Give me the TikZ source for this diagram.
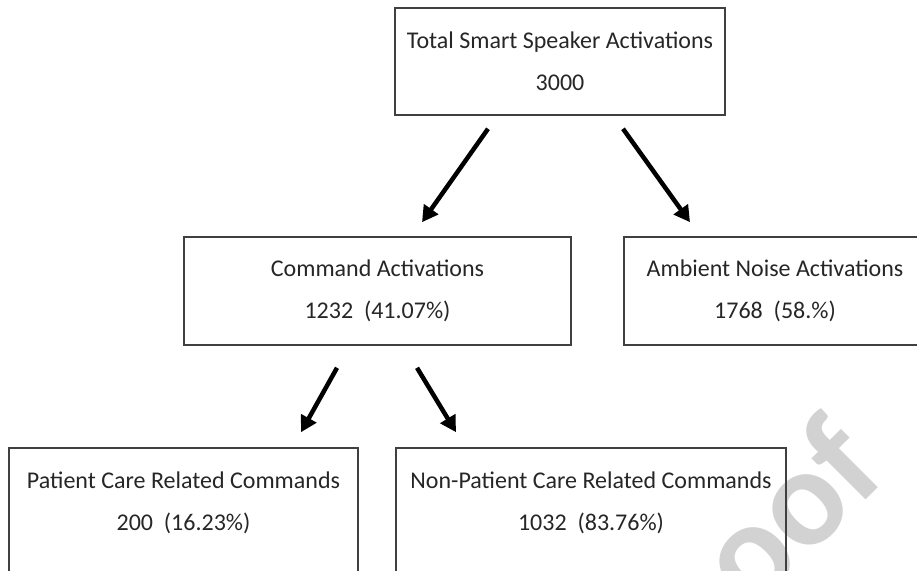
\documentclass[tikz,border=0pt]{standalone}
\usepackage{fontspec}
\setmainfont{Carlito}
\usetikzlibrary{arrows.meta,calc}
\definecolor{boxline}{HTML}{404040}
\definecolor{txt}{HTML}{262626}
\definecolor{wm}{HTML}{D2D2D2}
\tikzset{
  box/.style={draw=boxline, line width=1.6pt, inner sep=0pt, fill=none},
  lbl/.style={text=txt, align=center, inner sep=0pt, font=\fontsize{24}{42}\selectfont},
  arr/.style={line width=4.5pt, -{Triangle[length=16pt,width=17pt]}},
}
\begin{document}
\begin{tikzpicture}[x=1pt,y=-1pt]
\useasboundingbox (0,0) rectangle (917,570);
\clip (0,0) rectangle (917,570);
% watermark fragment
\node[text=wm, inner sep=0pt, anchor=base, rotate=45, font=\fontsize{140}{140}\selectfont\bfseries] (wmk) at (821,545) {oof};
% boxes
\node[box, lbl, minimum width=330pt, minimum height=107pt] (top) at (560,61.5) {Total Smart Speaker Activations\\3000};
\node[box, lbl, minimum width=387pt, minimum height=108pt] (cmd) at (377.5,291) {Command Activations\\1232\ \ (41.07\%)};
\node[box, lbl, minimum width=302pt, minimum height=108pt] (amb) at (775,291) {Ambient Noise Activations\\1768\ \ (58.\%)};
\node[box, minimum width=349pt, minimum height=140pt] (pc) at (183.5,518) {};
\node[box, minimum width=390pt, minimum height=140pt] (npc) at (591,518) {};
\node[lbl] (pct) at (183.5,503) {Patient Care Related Commands\\200\ \ (16.23\%)};
\node[lbl] (npct) at (591,503) {Non-Patient Care Related Commands\\1032\ \ (83.76\%)};
% arrow end points
\coordinate (a1s) at ($(top.south)+(-72,13)$);
\coordinate (a1e) at ($(cmd.north)+(44.5,-14)$);
\coordinate (a2s) at ($(top.south)+(63,13)$);
\coordinate (a2e) at ($(amb.north)+(-85,-14)$);
\coordinate (a3s) at ($(cmd.south)+(-40.5,22)$);
\coordinate (a3e) at ($(pc.north)+(117.5,-15)$);
\coordinate (a4s) at ($(cmd.south)+(39.5,22)$);
\coordinate (a4e) at ($(npc.north)+(-135,-15)$);
\draw[arr] (a1s) -- (a1e);
\draw[arr] (a2s) -- (a2e);
\draw[arr] (a3s) -- (a3e);
\draw[arr] (a4s) -- (a4e);
\end{tikzpicture}
\end{document}
